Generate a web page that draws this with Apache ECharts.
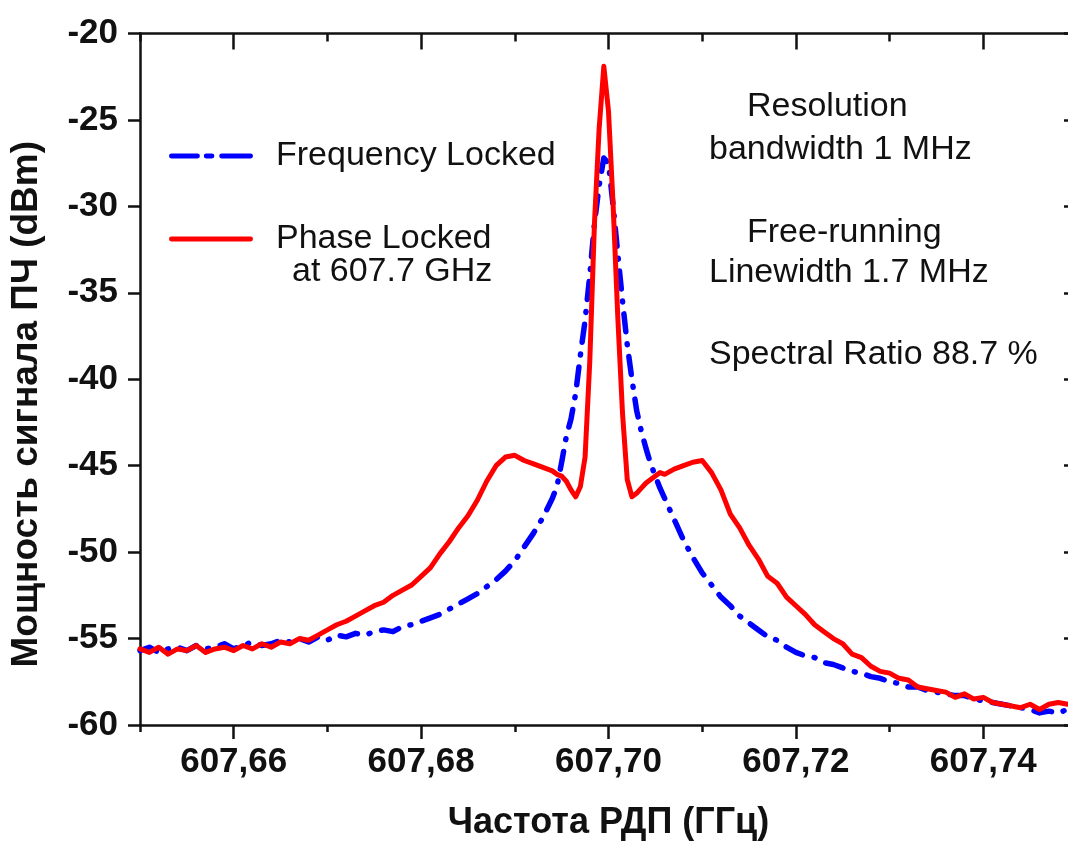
<!DOCTYPE html>
<html>
<head>
<meta charset="utf-8">
<script src="https://cdn.jsdelivr.net/npm/echarts@6/dist/echarts.min.js"></script>
<style>
html,body{margin:0;padding:0;background:#fff;overflow:hidden;width:1068px;height:846px;}
#chart{width:1082px;height:846px;}
</style>
</head>
<body>
<div id="chart"></div>
<script>
// ---- data ----
const freq = [
  607.650, 607.651, 607.652, 607.653, 607.654, 607.655, 607.656, 607.657, 607.658, 607.659,
  607.660, 607.661, 607.662, 607.663, 607.664, 607.665, 607.666, 607.667, 607.668, 607.669,
  607.670, 607.671, 607.672, 607.673, 607.674, 607.675, 607.676, 607.677, 607.678, 607.679,
  607.680, 607.681, 607.682, 607.683, 607.684, 607.685, 607.686, 607.687, 607.688, 607.689,
  607.690, 607.691, 607.692, 607.693, 607.694,
  607.6945, 607.6950, 607.6955, 607.6960, 607.6965, 607.6970, 607.6975, 607.6980, 607.6985, 607.6990,
  607.6995, 607.7000, 607.7005, 607.7010, 607.7015, 607.7020, 607.7025, 607.7030, 607.7035, 607.7040,
  607.7045, 607.7050, 607.7055,
  607.706, 607.707, 607.708, 607.709, 607.710, 607.711, 607.712, 607.713, 607.714, 607.715,
  607.716, 607.717, 607.718, 607.719, 607.720, 607.721, 607.722, 607.723, 607.724, 607.725,
  607.726, 607.727, 607.728, 607.729, 607.730, 607.731, 607.732, 607.733, 607.734, 607.735,
  607.736, 607.737, 607.738, 607.739, 607.740, 607.741, 607.742, 607.743, 607.744, 607.745,
  607.746, 607.747, 607.748, 607.749, 607.750
];
const frequencyLocked = [
  -55.7, -55.5, -55.8, -55.6, -55.5, -55.7, -55.4, -55.6, -55.5, -55.3,
  -55.6, -55.4, -55.2, -55.4, -55.3, -55.1, -55.2, -55.0, -55.2, -54.9,
  -55.1, -54.8, -54.9, -54.7, -54.8, -54.6, -54.5, -54.6, -54.3, -54.2,
  -54.0, -53.8, -53.6, -53.3, -53.0, -52.7, -52.4, -52.0, -51.6, -51.1,
  -50.5, -49.7, -48.9, -48.0, -46.9,
  -46.2, -44.8, -43.3, -42.3, -40.8, -38.6, -36.6, -34.0, -31.0, -28.8,
  -27.2, -27.5, -30.0, -32.8, -35.5, -38.0, -40.0, -41.8, -43.0, -44.0,
  -44.9, -45.6, -46.3,
  -46.9, -48.1, -49.3, -50.3, -51.2, -51.9, -52.6, -53.1, -53.7, -54.1,
  -54.5, -54.9, -55.1, -55.5, -55.8, -56.0, -56.1, -56.4, -56.5, -56.7,
  -56.9, -57.0, -57.2, -57.3, -57.5, -57.6, -57.8, -57.8, -58.0, -58.1,
  -58.2, -58.3, -58.3, -58.5, -58.6, -58.7, -58.8, -58.9, -59.0, -59.1,
  -59.3, -59.2, -59.3, -59.1, -59.2
];
const phaseLocked = [
  -55.6, -55.8, -55.5, -55.9, -55.6, -55.7, -55.4, -55.8, -55.6, -55.5,
  -55.7, -55.4, -55.6, -55.3, -55.5, -55.2, -55.3, -55.0, -55.1, -54.8,
  -54.5, -54.2, -54.0, -53.7, -53.4, -53.1, -52.9, -52.5, -52.2, -51.9,
  -51.4, -50.9, -50.1, -49.4, -48.6, -47.9, -47.0, -45.9, -45.0, -44.5,
  -44.4, -44.7, -44.9, -45.1, -45.3,
  -45.5, -45.6, -45.9, -46.4, -46.8, -46.2, -44.5, -39.0, -31.0, -25.5,
  -21.9, -24.5, -30.0, -36.5, -42.0, -45.8, -46.8, -46.6, -46.3, -46.0,
  -45.8, -45.6, -45.4,
  -45.5, -45.2, -45.0, -44.8, -44.7, -45.4, -46.4, -47.8, -48.6, -49.6,
  -50.4, -51.4, -51.8, -52.6, -53.1, -53.6, -54.2, -54.6, -55.0, -55.3,
  -55.9, -56.1, -56.6, -56.9, -57.0, -57.3, -57.4, -57.8, -57.9, -58.0,
  -58.1, -58.4, -58.2, -58.5, -58.4, -58.7, -58.8, -58.9, -59.0, -58.8,
  -59.1, -58.8, -58.7, -58.8, -58.7
];
const majorXTicks = [607.66, 607.68, 607.70, 607.72, 607.74];
const minorXTicks = [607.65, 607.67, 607.69, 607.71, 607.73, 607.75];
const seriesNames = ['Frequency Locked', 'Phase Locked'];
const xTitle = 'Частота РДП (ГГц)';
const yTitle = 'Мощность сигнала ПЧ (dBm)';
const notes = [
  {t: 'Resolution', x: 747, y: 107},
  {t: 'bandwidth 1 MHz', x: 709, y: 150},
  {t: 'Free-running', x: 747, y: 233},
  {t: 'Linewidth 1.7 MHz', x: 709, y: 273},
  {t: 'Spectral Ratio 88.7 %', x: 709, y: 355}
];

// ---- chart ----
const FONT = '"Liberation Sans", Arial, Helvetica, sans-serif';
const INK = '#111';
const XMIN = 607.65, XMAX = 607.75;
const chart = echarts.init(document.getElementById('chart'), null, {renderer: 'canvas'});

const zip = (xs, ys) => xs.map((x, i) => [x, ys[i]]);
const axisLine = {show: true, lineStyle: {color: INK, width: 2.5}};

const option = {
  backgroundColor: '#fff',
  animation: false,
  grid: {left: 139, top: 33.5, width: 938, height: 692.5, containLabel: false},
  xAxis: [
    { // main bottom
      type: 'value', position: 'bottom', min: XMIN, max: XMAX,
      axisLine: axisLine,
      axisTick: {show: true, inside: false, length: 14, customValues: majorXTicks, lineStyle: {color: INK, width: 2.5}},
      axisLabel: {show: true, customValues: majorXTicks, margin: 20, color: INK, fontFamily: FONT, fontSize: 35, fontWeight: 'bold',
        formatter: v => Number(v).toFixed(2).replace('.', ',')},
      splitLine: {show: false},
      name: xTitle, nameLocation: 'middle', nameGap: 80,
      nameTextStyle: {color: INK, fontFamily: FONT, fontSize: 36, fontWeight: 'bold'}
    },
    { // bottom minor
      type: 'value', position: 'bottom', min: XMIN, max: XMAX,
      axisLine: {show: false},
      axisTick: {show: true, inside: false, length: 7, customValues: minorXTicks, lineStyle: {color: INK, width: 2.5}},
      axisLabel: {show: false}, splitLine: {show: false}
    },
    { // top major
      type: 'value', position: 'top', min: XMIN, max: XMAX,
      axisLine: axisLine,
      axisTick: {show: true, inside: true, length: 16, customValues: majorXTicks, lineStyle: {color: INK, width: 2.5}},
      axisLabel: {show: false}, splitLine: {show: false}
    },
    { // top minor
      type: 'value', position: 'top', min: XMIN, max: XMAX,
      axisLine: {show: false},
      axisTick: {show: true, inside: true, length: 8, customValues: minorXTicks, lineStyle: {color: INK, width: 2.5}},
      axisLabel: {show: false}, splitLine: {show: false}
    }
  ],
  yAxis: [
    {
      type: 'value', position: 'left', min: -60, max: -20, interval: 5,
      axisLine: axisLine,
      axisTick: {show: true, inside: false, length: 12, lineStyle: {color: INK, width: 2.5}},
      axisLabel: {margin: 22, color: INK, fontFamily: FONT, fontSize: 35, fontWeight: 'bold'},
      splitLine: {show: false},
      name: yTitle, nameLocation: 'middle', nameGap: 95,
      nameTextStyle: {color: INK, fontFamily: FONT, fontSize: 37, fontWeight: 'bold', padding: [0, 50, 0, 0]}
    },
    {
      type: 'value', position: 'right', min: -60, max: -20, interval: 5,
      axisLine: axisLine,
      axisTick: {show: true, inside: true, length: 13, lineStyle: {color: INK, width: 2.5}},
      axisLabel: {show: false}, splitLine: {show: false}
    }
  ],
  legend: {
    show: true, orient: 'vertical', left: 164, top: 134,
    itemWidth: 84, itemHeight: 6, itemGap: 49,
    textStyle: {color: INK, fontFamily: FONT, fontSize: 34, lineHeight: 34, padding: [0, 0, 0, 18]},
    data: [
      {name: seriesNames[0], icon: 'path://M0,0h27a2.5,2.5,0,0,1,0,5h-27a2.5,2.5,0,0,1,0,-5z M36,0h6a2.5,2.5,0,0,1,0,5h-6a2.5,2.5,0,0,1,0,-5z M52,0h30a2.5,2.5,0,0,1,0,5h-30a2.5,2.5,0,0,1,0,-5z'},
      {name: seriesNames[1], icon: 'path://M0,0h82a2.5,2.5,0,0,1,0,5h-82a2.5,2.5,0,0,1,0,-5z'}
    ]
  },
  series: [
    {
      name: seriesNames[0], type: 'line', xAxisIndex: 0, yAxisIndex: 0,
      data: zip(freq, frequencyLocked), symbol: 'none', smooth: false,
      lineStyle: {color: '#0000ff', width: 5.5, type: [18, 12, 1, 12], cap: 'round', join: 'round'},
      itemStyle: {color: '#0000ff'}, z: 2
    },
    {
      name: seriesNames[1], type: 'line', xAxisIndex: 0, yAxisIndex: 0,
      data: zip(freq, phaseLocked), symbol: 'none', smooth: false,
      lineStyle: {color: '#ff0000', width: 5, type: 'solid', cap: 'round', join: 'round'},
      itemStyle: {color: '#ff0000'}, z: 3
    }
  ],
  graphic: [
    {type: 'text', left: 292, top: 272 - 17, style: {text: 'at 607.7 GHz', fill: INK, font: '34px ' + FONT}}
  ].concat(notes.map(n => ({
    type: 'text', left: n.x, top: n.y - 17,
    style: {text: n.t, fill: INK, font: '34px ' + FONT}
  })))
};
chart.setOption(option);
</script>
</body>
</html>
